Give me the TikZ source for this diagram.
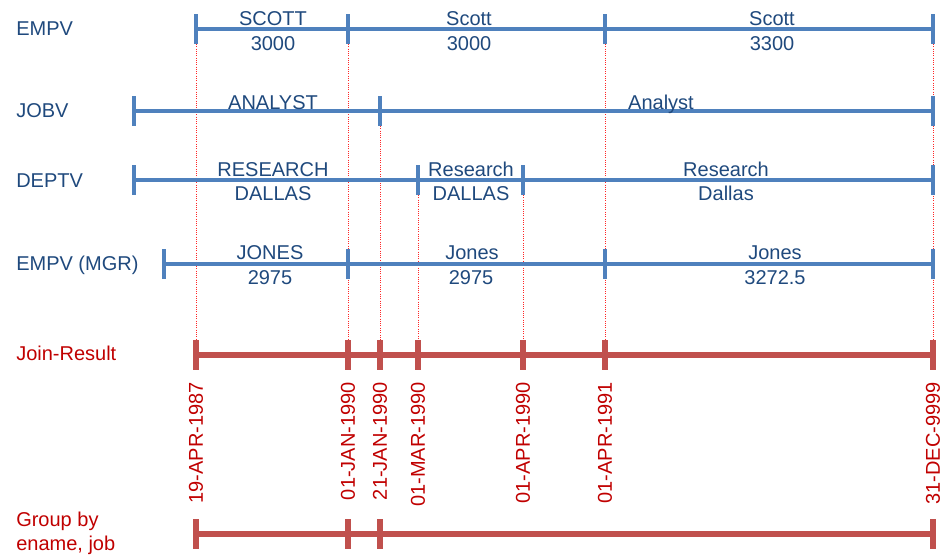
\documentclass[tikz,border=0pt]{standalone}
\usepackage{fontspec}
\setmainfont{Liberation Sans}

\definecolor{lineblue}{RGB}{79,129,189}
\definecolor{textblue}{RGB}{31,73,125}
\definecolor{linered}{RGB}{192,80,77}
\definecolor{textred}{RGB}{192,0,0}

\begin{document}
\begin{tikzpicture}[x=0.75pt,y=-0.75pt,
    blueline/.style={lineblue,line width=2.7pt},
    redline/.style={linered,line width=4.2pt},
    dateline/.style={red!85,densely dotted,line width=0.7pt},
    rowlabel/.style={anchor=base west,inner sep=0pt,font=\fontsize{15}{18}\selectfont},
    seglabel/.style={anchor=base,inner sep=0pt,textblue,font=\fontsize{15}{18}\selectfont},
    datelabel/.style={rotate=90,anchor=east,inner sep=0pt,textred,font=\fontsize{15}{18}\selectfont}]
    \useasboundingbox (0,0) rectangle (952,554);

    % Row levels
    \coordinate (empv) at (0,29);
    \coordinate (jobv) at (0,111);
    \coordinate (deptv) at (0,180);
    \coordinate (mgrv) at (0,264);
    \coordinate (join) at (0,355);
    \coordinate (jointop) at (0,340);
    \coordinate (datetop) at (0,382);
    \coordinate (group) at (0,534);

    % Time points
    \coordinate (j0) at (134,0);
    \coordinate (m0) at (164,0);
    \coordinate (d1) at (196,0);
    \coordinate (d2) at (348,0);
    \coordinate (d3) at (380,0);
    \coordinate (d4) at (418,0);
    \coordinate (d5) at (523,0);
    \coordinate (d6) at (605,0);
    \coordinate (d7) at (933,0);

    % Dotted guides down to the join result
    \foreach \d/\r in {d1/empv,d2/empv,d3/jobv,d4/deptv,d5/deptv,d6/empv,d7/empv}
        \draw[dateline] (\d |- \r) ++(0,15) -- (\d |- jointop);

    % Row labels
    \node[rowlabel,textblue] (lempv) at (16,35) {EMPV};
    \node[rowlabel,textblue] (ljobv) at (16,117) {JOBV};
    \node[rowlabel,textblue] (ldeptv) at (16,187) {DEPTV};
    \node[rowlabel,textblue] (lmgrv) at (16,270) {EMPV (MGR)};
    \node[rowlabel,textred] (ljoin) at (16,360) {Join-Result};
    \node[rowlabel,textred,align=left] (lgroup) at (16,550) {Group by\\ename, job};

    % EMPV
    \draw[blueline] (d1 |- empv) -- (d7 |- empv);
    \foreach \d in {d1,d2,d6,d7}
        \draw[blueline] (\d |- empv) ++(0,-15) -- ++(0,30);
    \node[seglabel] (e1a) at (273,25) {SCOTT};
    \node[seglabel] (e1b) at (273,50) {3000};
    \node[seglabel] (e2a) at (469,25) {Scott};
    \node[seglabel] (e2b) at (469,50) {3000};
    \node[seglabel] (e3a) at (772,25) {Scott};
    \node[seglabel] (e3b) at (772,50) {3300};

    % JOBV
    \draw[blueline] (j0 |- jobv) -- (d7 |- jobv);
    \foreach \d in {j0,d3,d7}
        \draw[blueline] (\d |- jobv) ++(0,-15) -- ++(0,30);
    \node[seglabel] (j1) at (273,109) {ANALYST};
    \node[seglabel] (j2) at (661,109) {Analyst};

    % DEPTV
    \draw[blueline] (j0 |- deptv) -- (d7 |- deptv);
    \foreach \d in {j0,d4,d5,d7}
        \draw[blueline] (\d |- deptv) ++(0,-15) -- ++(0,30);
    \node[seglabel] (p1a) at (273,176) {RESEARCH};
    \node[seglabel] (p1b) at (273,200) {DALLAS};
    \node[seglabel] (p2a) at (471,176) {Research};
    \node[seglabel] (p2b) at (471,200) {DALLAS};
    \node[seglabel] (p3a) at (726,176) {Research};
    \node[seglabel] (p3b) at (726,200) {Dallas};

    % EMPV (MGR)
    \draw[blueline] (m0 |- mgrv) -- (d7 |- mgrv);
    \foreach \d in {m0,d2,d6,d7}
        \draw[blueline] (\d |- mgrv) ++(0,-15) -- ++(0,30);
    \node[seglabel] (m1a) at (270,259) {JONES};
    \node[seglabel] (m1b) at (270,284) {2975};
    \node[seglabel] (m2a) at (472,259) {Jones};
    \node[seglabel] (m2b) at (471,284) {2975};
    \node[seglabel] (m3a) at (775,259) {Jones};
    \node[seglabel] (m3b) at (775,284) {3272.5};

    % Join result
    \draw[redline] (d1 |- join) -- (d7 |- join);
    \foreach \d in {d1,d2,d3,d4,d5,d6,d7}
        \draw[redline] (\d |- join) ++(0,-15) -- ++(0,30);

    % Dates
    \node[datelabel] (t1) at (d1 |- datetop) {19-APR-1987};
    \node[datelabel] (t2) at (d2 |- datetop) {01-JAN-1990};
    \node[datelabel] (t3) at (d3 |- datetop) {21-JAN-1990};
    \node[datelabel] (t4) at (d4 |- datetop) {01-MAR-1990};
    \node[datelabel] (t5) at (d5 |- datetop) {01-APR-1990};
    \node[datelabel] (t6) at (d6 |- datetop) {01-APR-1991};
    \node[datelabel] (t7) at (d7 |- datetop) {31-DEC-9999};

    % Group by ename, job
    \draw[redline] (d1 |- group) -- (d7 |- group);
    \foreach \d in {d1,d2,d3,d7}
        \draw[redline] (\d |- group) ++(0,-15) -- ++(0,30);
\end{tikzpicture}
\end{document}
